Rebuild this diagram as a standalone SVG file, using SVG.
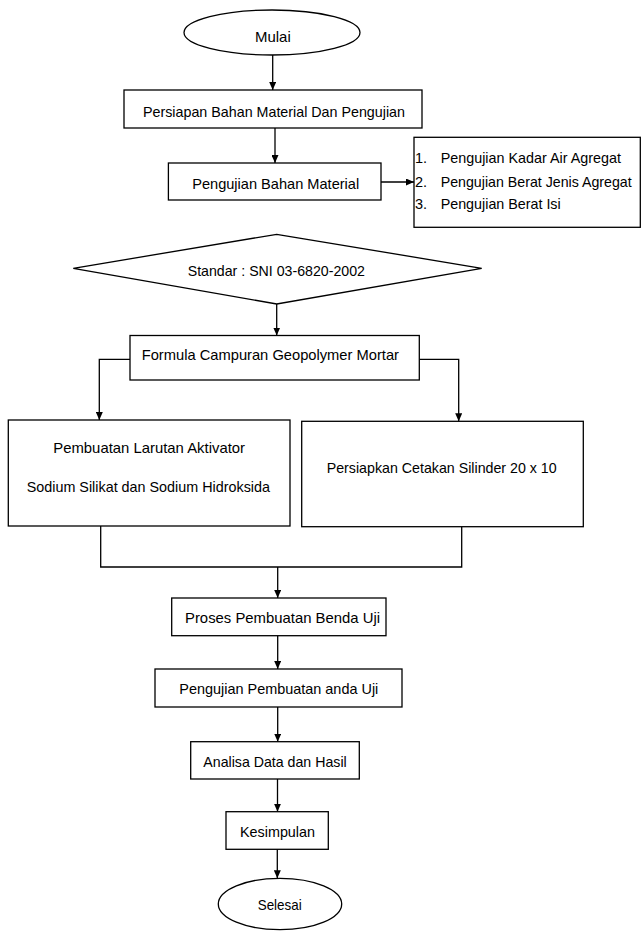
<svg xmlns="http://www.w3.org/2000/svg" width="641" height="931" viewBox="0 0 641 931">
<defs>
<style>
.shape{fill:#fff;stroke:#000;stroke-width:1.3}
.conn{fill:none;stroke:#000;stroke-width:1.3}
.t{font-family:"Liberation Sans",Arial,sans-serif;font-size:14.5px;fill:#000}
</style>
<marker id="arr" markerUnits="userSpaceOnUse" viewBox="0 0 8 7" refX="8" refY="3.5" markerWidth="8" markerHeight="7" orient="auto">
<path d="M0,0 L8,3.5 L0,7 z" fill="#000"/>
</marker>
</defs>
<rect width="641" height="931" fill="#fff"/>
<g id="connectors">
<line class="conn" x1="272.7" y1="55" x2="272.7" y2="90" marker-end="url(#arr)"/>
<line class="conn" x1="275" y1="128" x2="275" y2="163" marker-end="url(#arr)"/>
<line class="conn" x1="381" y1="182" x2="414" y2="182" marker-end="url(#arr)"/>
<line class="conn" x1="276.7" y1="304" x2="276.7" y2="335.5" marker-end="url(#arr)"/>
<polyline class="conn" points="130,359.3 99.3,359.3 99.3,420" marker-end="url(#arr)"/>
<polyline class="conn" points="419.3,359.3 458.7,359.3 458.7,421.3" marker-end="url(#arr)"/>
<path class="conn" d="M100.7,526 V567 H461.7 V526.7"/>
<line class="conn" x1="277.7" y1="567" x2="277.7" y2="598" marker-end="url(#arr)"/>
<line class="conn" x1="277.7" y1="635.7" x2="277.7" y2="669" marker-end="url(#arr)"/>
<line class="conn" x1="277.7" y1="707" x2="277.7" y2="741.7" marker-end="url(#arr)"/>
<line class="conn" x1="277.5" y1="779" x2="277.5" y2="811.7" marker-end="url(#arr)"/>
<line class="conn" x1="277.3" y1="849.3" x2="277.3" y2="878.3" marker-end="url(#arr)"/>
</g>
<g id="mulai">
<ellipse class="shape" cx="272" cy="32.5" rx="88" ry="22.5"/>
<text class="t" x="255" y="41.5" textLength="35.7" lengthAdjust="spacingAndGlyphs">Mulai</text>
</g>
<g id="persiapan">
<rect class="shape" x="124" y="90" width="298" height="38"/>
<text class="t" x="143" y="116.5" textLength="262" lengthAdjust="spacingAndGlyphs">Persiapan Bahan Material Dan Pengujian</text>
</g>
<g id="pengujian-bahan">
<rect class="shape" x="168.4" y="163" width="212.6" height="37"/>
<text class="t" x="192.2" y="188.5" textLength="167" lengthAdjust="spacingAndGlyphs">Pengujian Bahan Material</text>
</g>
<g id="daftar-pengujian">
<rect class="shape" x="414" y="137.3" width="226.3" height="90"/>
<text class="t" x="415" y="163">1.</text>
<text class="t" x="440.7" y="163" textLength="180.3" lengthAdjust="spacingAndGlyphs">Pengujian Kadar Air Agregat</text>
<text class="t" x="415" y="186.5">2.</text>
<text class="t" x="440.7" y="186.5" textLength="191" lengthAdjust="spacingAndGlyphs">Pengujian Berat Jenis Agregat</text>
<text class="t" x="415" y="208.5">3.</text>
<text class="t" x="440.7" y="208.5" textLength="120" lengthAdjust="spacingAndGlyphs">Pengujian Berat Isi</text>
</g>
<g id="standar">
<polygon class="shape" points="73.3,268.3 276.7,234.3 481.7,268.3 276.7,304"/>
<text class="t" x="187.7" y="275.7" textLength="177.3" lengthAdjust="spacingAndGlyphs">Standar : SNI 03-6820-2002</text>
</g>
<g id="formula">
<rect class="shape" x="130" y="335.5" width="289.3" height="44.5"/>
<text class="t" x="141.7" y="360" textLength="257.3" lengthAdjust="spacingAndGlyphs">Formula Campuran Geopolymer Mortar</text>
</g>
<g id="larutan-aktivator">
<rect class="shape" x="8.3" y="420" width="281.7" height="106"/>
<text class="t" x="53.3" y="453.3" textLength="191.7" lengthAdjust="spacingAndGlyphs">Pembuatan Larutan Aktivator</text>
<text class="t" x="26.7" y="491.7" textLength="243.3" lengthAdjust="spacingAndGlyphs">Sodium Silikat dan Sodium Hidroksida</text>
</g>
<g id="cetakan">
<rect class="shape" x="301.7" y="421.3" width="281.6" height="105.4"/>
<text class="t" x="326.7" y="473.3" textLength="230" lengthAdjust="spacingAndGlyphs">Persiapkan Cetakan Silinder 20 x 10</text>
</g>
<g id="proses">
<rect class="shape" x="171.7" y="598" width="214.3" height="37.7"/>
<text class="t" x="185" y="623.3" textLength="195" lengthAdjust="spacingAndGlyphs">Proses Pembuatan Benda Uji</text>
</g>
<g id="pengujian-pembuatan">
<rect class="shape" x="155" y="669" width="247" height="38"/>
<text class="t" x="179.3" y="694" textLength="199" lengthAdjust="spacingAndGlyphs">Pengujian Pembuatan anda Uji</text>
</g>
<g id="analisa">
<rect class="shape" x="190.7" y="741.7" width="168.6" height="37.3"/>
<text class="t" x="203.3" y="766.7" textLength="143.4" lengthAdjust="spacingAndGlyphs">Analisa Data dan Hasil</text>
</g>
<g id="kesimpulan">
<rect class="shape" x="226" y="811.7" width="102.3" height="37.6"/>
<text class="t" x="240" y="836.7" textLength="75" lengthAdjust="spacingAndGlyphs">Kesimpulan</text>
</g>
<g id="selesai">
<ellipse class="shape" cx="280" cy="904" rx="61.7" ry="25.7"/>
<text class="t" x="257.7" y="910" textLength="44" lengthAdjust="spacingAndGlyphs">Selesai</text>
</g>
</svg>
